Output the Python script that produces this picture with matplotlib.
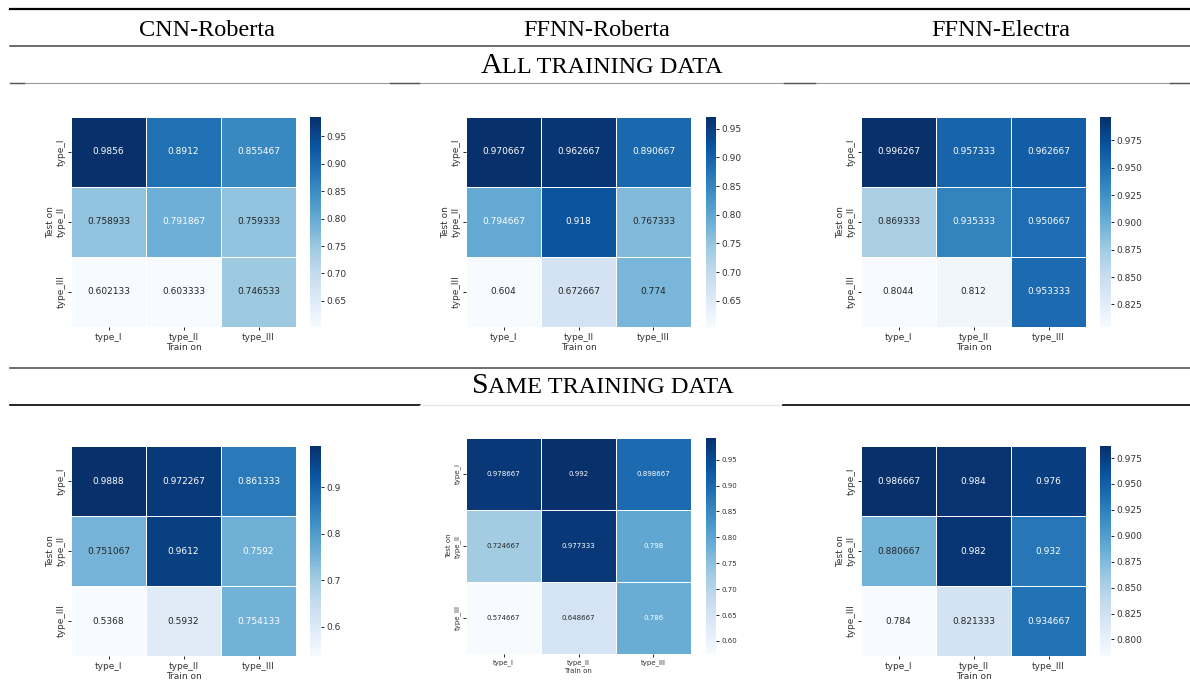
import numpy as np
import pandas as pd
import matplotlib
matplotlib.use('Agg')
import matplotlib.pyplot as plt
from matplotlib.lines import Line2D
import seaborn as sns

types = ['type_I', 'type_II', 'type_III']
models = ['CNN-Roberta', 'FFNN-Roberta', 'FFNN-Electra']

cnn_roberta_all = [[0.9856, 0.8912, 0.855467],
                   [0.758933, 0.791867, 0.759333],
                   [0.602133, 0.603333, 0.746533]]
ffnn_roberta_all = [[0.970667, 0.962667, 0.890667],
                    [0.794667, 0.918, 0.767333],
                    [0.604, 0.672667, 0.774]]
ffnn_electra_all = [[0.996267, 0.957333, 0.962667],
                    [0.869333, 0.935333, 0.950667],
                    [0.8044, 0.812, 0.953333]]
cnn_roberta_same = [[0.9888, 0.972267, 0.861333],
                    [0.751067, 0.9612, 0.7592],
                    [0.5368, 0.5932, 0.754133]]
ffnn_roberta_same = [[0.978667, 0.992, 0.898667],
                     [0.724667, 0.977333, 0.798],
                     [0.574667, 0.648667, 0.786]]
ffnn_electra_same = [[0.986667, 0.984, 0.976],
                     [0.880667, 0.982, 0.932],
                     [0.784, 0.821333, 0.934667]]

W, H = 1190, 693
fig = plt.figure(figsize=(W / 100, H / 100), dpi=100)
serif = 'Liberation Serif'


def px_axes(l, t, r, b):
    return fig.add_axes([l / W, 1 - b / H, (r - l) / W, (b - t) / H])


def hline(y, x0, x1, lw, color):
    fig.add_artist(Line2D([x0 / W, x1 / W], [1 - y / H, 1 - y / H],
                          transform=fig.transFigure, lw=lw, color=color))


def smallcaps(xc, ybase, first, rest, big, small):
    t1 = fig.text(0, 1 - ybase / H, first, fontsize=big, family=serif, va='baseline')
    t2 = fig.text(0, 1 - ybase / H, rest, fontsize=small, family=serif, va='baseline')
    r = fig.canvas.get_renderer()
    w1 = t1.get_window_extent(r).width
    w2 = t2.get_window_extent(r).width
    start = xc - (w1 + w2) / 2
    t1.set_x(start / W)
    t2.set_x((start + w1) / W)


# table rules
hline(9, 10, 1190, 1.6, 'black')
hline(46, 10, 1190, 1.1, '#444444')
hline(83, 10, 1190, 0.8, '#999999')
for a, b in [(10, 24), (390, 419), (784, 815), (1170, 1190)]:
    hline(83, a, b, 1.0, '#555555')
hline(368, 10, 1190, 1.1, '#444444')
hline(405, 10, 420, 1.2, 'black')
hline(405, 420, 783, 1.0, '#e6e6e6')
hline(405, 783, 1190, 1.2, 'black')

# headers
for name, xc in zip(models, [207, 597, 1001]):
    fig.text(xc / W, 1 - 36 / H, name, fontsize=17.5, family=serif,
             ha='center', va='baseline')
smallcaps(602, 73, 'A', 'LL TRAINING DATA', 21.5, 17.5)
smallcaps(603, 393, 'S', 'AME TRAINING DATA', 21.5, 17.5)

panels = [
    (cnn_roberta_all, (71, 117, 296, 327), (310, 321), 6.5),
    (ffnn_roberta_all, (466, 117, 691, 327), (706, 716), 6.5),
    (ffnn_electra_all, (861, 117, 1086, 327), (1100, 1111), 6.5),
    (cnn_roberta_same, (71, 446, 296, 656), (310, 321), 6.5),
    (ffnn_roberta_same, (466, 438, 691, 654), (706, 716), 5.0),
    (ffnn_electra_same, (861, 446, 1086, 656), (1100, 1111), 6.5),
]

for vals, (l, t, r, b), (cl, cr), fs in panels:
    ax = px_axes(l, t, r, b)
    cax = px_axes(cl, t, cr, b)
    df = pd.DataFrame(vals, index=types, columns=types)
    sns.heatmap(df, ax=ax, cbar_ax=cax, cmap='Blues', annot=True, fmt='g',
                linewidths=0.5, linecolor='white', annot_kws={'size': fs})
    ax.set_xlabel('Train on', fontsize=fs, labelpad=1, color='#333333')
    ax.set_ylabel('Test on', fontsize=fs, labelpad=1, color='#333333')
    ax.tick_params(axis='both', labelsize=fs, length=2, width=0.6, pad=2,
                   labelcolor='#333333')
    ax.set_yticklabels(types, rotation=90, va='center')
    cax.tick_params(labelsize=fs, length=2, width=0.6, pad=2, labelcolor='#333333')

fig.savefig('out.png', dpi=100)
